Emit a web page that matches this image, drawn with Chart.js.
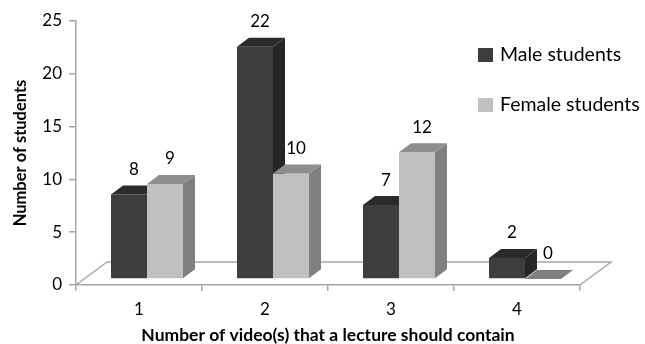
<!DOCTYPE html>
<html>
<head>
<meta charset="utf-8">
<script src="https://cdn.jsdelivr.net/npm/chart.js@4/dist/chart.umd.min.js"></script>
<style>
  html, body { margin: 0; padding: 0; background: #fff; }
  #wrap { width: 645px; height: 344px; }
</style>
</head>
<body>
<div id="wrap"><canvas id="c" width="645" height="344"></canvas></div>
<script>
// Survey results: how many videos a lecture should contain
const categories = ['1', '2', '3', '4'];
const maleStudents = [8, 22, 7, 2];
const femaleStudents = [9, 10, 12, 0];
const yTicks = [0, 5, 10, 15, 20, 25];
const seriesNames = ['Male students', 'Female students'];

// Face shades for the pseudo-3D columns: front, top, side
const shades = [
  { front: '#3d3d3d', top: '#2b2b2b', side: '#262626' },
  { front: '#c0c0c0', top: '#8e8e8e', side: '#808080' }
];

const FONT = 'Lato, "Open Sans", sans-serif';
const AXIS_GRAY = '#a6a6a6';

// Perspective offsets (px)
const FRONT_DX = 8, FRONT_DY = -6;    // column front plane sits a little behind the axis
const DEPTH_DX = 12, DEPTH_DY = -9;   // column depth
const FLOOR_DX = 31, FLOOR_DY = -23;  // floor depth

function poly(ctx, pts, fill) {
  ctx.beginPath();
  ctx.moveTo(pts[0][0], pts[0][1]);
  for (let i = 1; i < pts.length; i++) ctx.lineTo(pts[i][0], pts[i][1]);
  ctx.closePath();
  ctx.fillStyle = fill;
  ctx.fill();
}

const columns3d = {
  id: 'columns3d',
  beforeDatasetsDraw(chart) {
    const ctx = chart.ctx;
    const xs = chart.scales.x, ys = chart.scales.y;
    const y0 = ys.getPixelForValue(0);
    const l = xs.left, r = xs.right;

    ctx.save();
    // floor outline (front edge is the x axis line)
    ctx.strokeStyle = AXIS_GRAY;
    ctx.lineWidth = 1.5;
    ctx.beginPath();
    ctx.moveTo(l, y0);
    ctx.lineTo(l + FLOOR_DX, y0 + FLOOR_DY);
    ctx.lineTo(r + FLOOR_DX, y0 + FLOOR_DY);
    ctx.lineTo(r, y0);
    ctx.stroke();

    // columns, left to right so right-hand fronts cover left-hand sides
    const metas = chart.data.datasets.map((d, i) => chart.getDatasetMeta(i));
    const labels = [];
    for (let c = 0; c < categories.length; c++) {
      metas.forEach((meta, di) => {
        const el = meta.data[c];
        const sh = shades[di];
        const x0 = el.x - el.width / 2 + FRONT_DX;
        const x1 = el.x + el.width / 2 + FRONT_DX;
        const yt = el.y + FRONT_DY;
        const yb = el.base + FRONT_DY;
        if (yb - yt > 0.5) {
          poly(ctx, [[x0, yt], [x1, yt], [x1, yb], [x0, yb]], sh.front);
          poly(ctx, [[x1, yt], [x1 + DEPTH_DX, yt + DEPTH_DY], [x1 + DEPTH_DX, yb + DEPTH_DY], [x1, yb]], sh.side);
          poly(ctx, [[x0, yt], [x1, yt], [x1 + DEPTH_DX, yt + DEPTH_DY], [x0 + DEPTH_DX, yt + DEPTH_DY]], sh.top);
        } else {
          // zero value: a flat plate on the floor
          poly(ctx, [[x0, yb], [x1, yb], [x1 + DEPTH_DX, yb + DEPTH_DY], [x0 + DEPTH_DX, yb + DEPTH_DY]], sh.side);
        }
        const v = chart.data.datasets[di].data[c];
        labels.push([String(v), (x0 + x1) / 2 + 5, yt - 25]);
      });
    }

    // value labels
    ctx.fillStyle = '#000';
    ctx.font = '17px ' + FONT;
    ctx.textAlign = 'center';
    ctx.textBaseline = 'middle';
    labels.forEach(([t, x, y]) => ctx.fillText(t, x, y));

    // legend
    ctx.font = '19.5px ' + FONT;
    ctx.textAlign = 'left';
    seriesNames.forEach((name, i) => {
      const ly = 55 + i * 50;
      ctx.fillStyle = shades[i].front;
      ctx.fillRect(478, ly - 7, 15, 14);
      ctx.fillStyle = '#000';
      ctx.fillText(name, 500, ly);
    });
    ctx.restore();
    return false;
  }
};

new Chart(document.getElementById('c'), {
  type: 'bar',
  data: {
    labels: categories,
    datasets: [
      { label: seriesNames[0], data: maleStudents, backgroundColor: shades[0].front },
      { label: seriesNames[1], data: femaleStudents, backgroundColor: shades[1].front }
    ]
  },
  options: {
    responsive: false,
    animation: false,
    devicePixelRatio: 1,
    categoryPercentage: 0.5714,
    barPercentage: 1,
    layout: { padding: { left: 0, top: 21, right: 65, bottom: 0 } },
    plugins: { legend: { display: false }, tooltip: { enabled: false } },
    scales: {
      x: {
        afterFit(s) { s.height = 59; },
        grid: { offset: true, drawOnChartArea: false, drawTicks: true, tickLength: 6, color: AXIS_GRAY, lineWidth: 1.5 },
        border: { color: AXIS_GRAY, width: 1.5 },
        ticks: { color: '#000', font: { family: FONT, size: 17 }, padding: 8 },
        title: {
          display: true,
          text: 'Number of video(s) that a lecture should contain',
          color: '#000',
          font: { family: FONT, size: 17.5, weight: 'bold', lineHeight: 1 },
          padding: { top: 0, bottom: 0 }
        }
      },
      y: {
        min: 0,
        max: 25,
        afterFit(s) { s.width = 76; },
        afterBuildTicks(s) { s.ticks = yTicks.map(v => ({ value: v })); },
        grid: { drawOnChartArea: false, drawTicks: true, tickLength: 7, color: AXIS_GRAY, lineWidth: 1.5 },
        border: { color: AXIS_GRAY, width: 1.5 },
        ticks: { color: '#000', font: { family: FONT, size: 17 }, padding: 7 },
        title: {
          display: true,
          text: 'Number of students',
          color: '#000',
          font: { family: FONT, size: 16.5, weight: 'bold', lineHeight: 1.2 },
          padding: { top: 11, bottom: 0 }
        }
      }
    }
  },
  plugins: [columns3d]
});
</script>
</body>
</html>
